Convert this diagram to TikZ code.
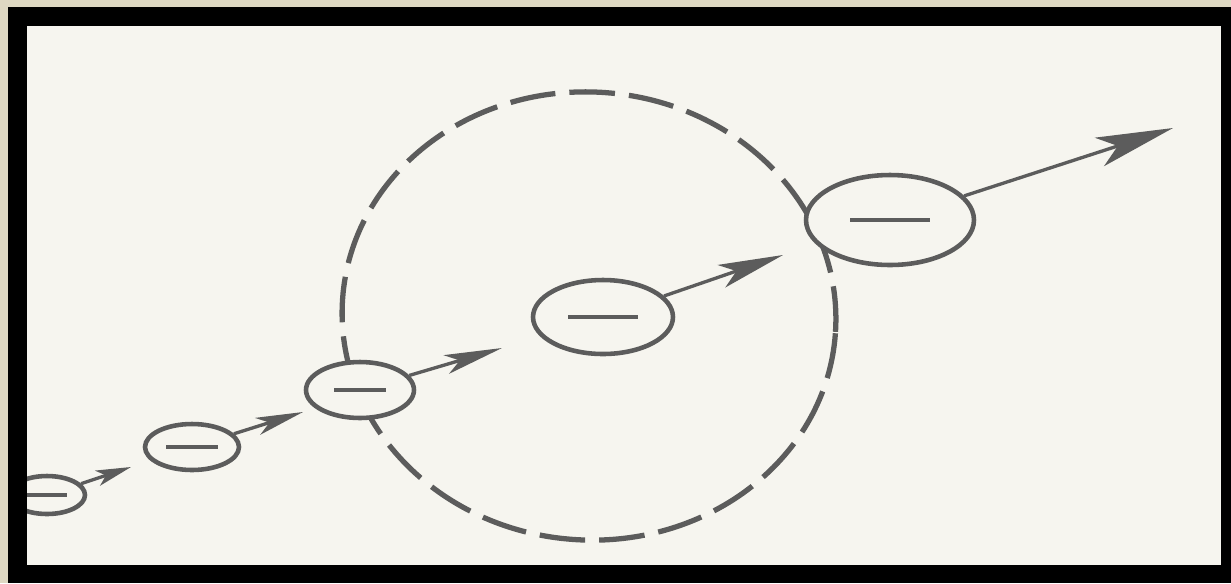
\documentclass[tikz,border=0pt]{standalone}
\usepackage{tikz}
\usetikzlibrary{shapes.geometric,arrows.meta}
\definecolor{mat}{RGB}{222,216,194}
\definecolor{paper}{RGB}{246,245,239}
\definecolor{ink}{RGB}{92,92,92}

\tikzset{
  charge/.style={ellipse, draw=ink, fill=paper, line width=2.6pt, inner sep=0pt},
  bar/.style={line width=2.6pt, ink},
  arr/.style n args={3}{line width=1.9pt, ink, -{Stealth[length=#1, width=#2, inset=#3]}},
  ring/.style={line width=3pt, ink, dash pattern=on 26pt off 8pt},
}

\begin{document}
\begin{tikzpicture}[x=0.02cm, y=-0.02cm]
  \useasboundingbox (0,0) rectangle (1231,583);
  \fill[mat] (0,0) rectangle (1231,583);
  \fill[black] (8,7) rectangle (1231,583);
  \fill[paper] (27,26) rectangle (1221,565);

  \begin{scope}
    \clip (27,26) rectangle (1221,565);
    \path
      (47,495) coordinate (c1)
      (192,447) coordinate (c2)
      (360,390) coordinate (c3)
      (603,317) coordinate (c4)
      (890,220) coordinate (c5)
      (131,467) coordinate (p1)
      (303,412) coordinate (p2)
      (502,348) coordinate (p3)
      (783,255) coordinate (p4)
      (1173,128) coordinate (p5)
      ;

    \draw[ring, rotate around={-4:(589,316)}] (589,316) ellipse [x radius=247, y radius=224];

    \node[charge, minimum width=1.52cm, minimum height=0.76cm] (e1) at (c1) {};
    \node[charge, minimum width=1.88cm, minimum height=0.92cm] (e2) at (c2) {};
    \node[charge, minimum width=2.16cm, minimum height=1.12cm] (e3) at (c3) {};
    \node[charge, minimum width=2.8cm, minimum height=1.48cm] (e4) at (c4) {};
    \node[charge, minimum width=3.36cm, minimum height=1.8cm] (e5) at (c5) {};

    \draw[bar] (e1.center) ++(-20,0) -- ++(40,0);
    \draw[bar] (e2.center) ++(-26,0) -- ++(52,0);
    \draw[bar] (e3.center) ++(-26,0) -- ++(52,0);
    \draw[bar] (e4.center) ++(-35,0) -- ++(70,0);
    \draw[bar] (e5.center) ++(-40,0) -- ++(80,0);

    \draw[arr={20pt}{9pt}{5pt}] (e1) -- (p1);
    \draw[arr={27pt}{10pt}{7pt}] (e2) -- (p2);
    \draw[arr={33pt}{11pt}{8pt}] (e3) -- (p3);
    \draw[arr={37pt}{13.5pt}{9pt}] (e4) -- (p4);
    \draw[arr={44pt}{17pt}{11pt}] (e5) -- (p5);
  \end{scope}
\end{tikzpicture}
\end{document}
